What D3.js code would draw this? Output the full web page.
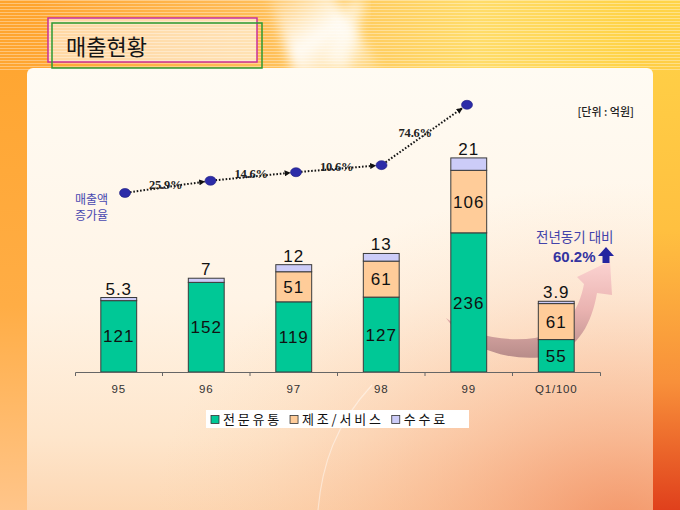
<!DOCTYPE html>
<html>
<head>
<meta charset="utf-8">
<script src="https://cdn.jsdelivr.net/npm/d3@7"></script>
<style>
  body { margin: 0; background: #ffb040; }
  svg { display: block; }
</style>
</head>
<body>
<div id="chart"></div>
<script>
/* categories on the x axis */
const categories = ["95", "96", "97", "98", "99", "Q1/100"];

/* 전문유통 (billion won) */
const distribution = [121, 152, 119, 127, 236, 55];

/* 제조/서비스 */
const manufacturing = [0, 0, 51, 61, 106, 61];

/* 수수료 */
const fees = [5.3, 7, 12, 13, 21, 3.9];
const feeLabels = ["5.3", "7", "12", "13", "21", "3.9"];

/* yearly sales totals drawn as the growth line (95 - 99) */
const salesTotals = [126.3, 159, 182, 201, 363];
const growthLabels = ["25.9%", "14.6%", "10.6%", "74.6%"];

const seriesNames = ["전문유통", "제조/서비스", "수수료"];
const seriesColors = ["#00c896", "#ffcc99", "#ccccf8"];

const width = 680;
const height = 510;
const kr = "'Noto Sans CJK KR', 'Noto Sans', sans-serif";

const svg = d3.select("#chart")
  .append("svg")
    .attr("width", width)
    .attr("height", height);

const defs = svg.append("defs");

function linear(id, x2, y2, stops) {
  const g = defs.append("linearGradient")
    .attr("id", id)
    .attr("x1", 0).attr("y1", 0)
    .attr("x2", x2).attr("y2", y2);
  stops.forEach(s => g.append("stop")
    .attr("offset", s[0])
    .attr("stop-color", s[1])
    .attr("stop-opacity", s[2] === undefined ? 1 : s[2]));
}

linear("bgGrad", 1, 0, [[0, "#ffa22c"], [0.35, "#ffbb55"], [0.7, "#ffdc6a"], [1, "#ffd03c"]]);
linear("panelGrad", 0, 1, [[0, "#fffbf3"], [0.5, "#fff4e6"], [0.8, "#fee6cc"], [1, "#fcd3ad"]]);
linear("rightGrad", 0, 1, [[0, "#ffd448"], [0.45, "#ffc040"], [0.75, "#f8903a"], [1, "#e0401c"]]);
linear("leftGrad", 0, 1, [[0, "#ffa42c"], [0.6, "#ffad45"], [1, "#ffc58a"]]);
linear("swooshGrad", 0, 1, [[0, "#fbd0d0"], [0.5, "#e8aeae"], [1, "#b08484"]]);
linear("rayGrad", 1, 1, [[0, "#ffffff", 0], [0.5, "#ffffff", 0.95], [1, "#ffffff", 0]]);

const radial = defs.append("radialGradient")
  .attr("id", "cornerGlow")
  .attr("cx", 0.95).attr("cy", 1).attr("r", 0.75);
radial.append("stop").attr("offset", 0).attr("stop-color", "#f08050").attr("stop-opacity", 0.75);
radial.append("stop").attr("offset", 0.5).attr("stop-color", "#f6a070").attr("stop-opacity", 0.35);
radial.append("stop").attr("offset", 1).attr("stop-color", "#fbd0a8").attr("stop-opacity", 0);

const stripes = defs.append("pattern")
  .attr("id", "stripes")
  .attr("width", 6).attr("height", 3)
  .attr("patternUnits", "userSpaceOnUse");
stripes.append("rect")
  .attr("width", 6).attr("height", 1)
  .attr("fill", "#ffffff").attr("opacity", 0.35);

defs.append("filter").attr("id", "soft")
  .append("feGaussianBlur").attr("stdDeviation", 6);

defs.append("marker")
    .attr("id", "arrowHead")
    .attr("viewBox", "0 0 10 10")
    .attr("refX", 9).attr("refY", 5)
    .attr("markerWidth", 6).attr("markerHeight", 6)
    .attr("markerUnits", "userSpaceOnUse")
    .attr("orient", "auto")
  .append("path")
    .attr("d", "M0,0L10,5L0,10Z")
    .attr("fill", "#111");

/* background */
svg.append("rect").attr("width", width).attr("height", height).attr("fill", "url(#bgGrad)");
svg.append("rect").attr("width", 40).attr("height", height).attr("fill", "url(#leftGrad)");
svg.append("rect").attr("x", 640).attr("width", 40).attr("height", height).attr("fill", "url(#rightGrad)");
svg.append("rect").attr("width", width).attr("height", 70).attr("fill", "url(#stripes)");
svg.append("path")
  .attr("d", "M265,-10L330,-10L385,75L295,75Z")
  .attr("fill", "url(#rayGrad)")
  .attr("filter", "url(#soft)");
svg.append("path")
  .attr("d", "M325,62L348,0L366,0L348,70Z")
  .attr("fill", "#ffffff").attr("opacity", 0.6)
  .attr("filter", "url(#soft)");

/* content panel */
svg.append("rect")
  .attr("x", 27).attr("y", 68)
  .attr("width", 626).attr("height", 460)
  .attr("rx", 6)
  .attr("fill", "url(#panelGrad)");
svg.append("rect")
  .attr("x", 27).attr("y", 68)
  .attr("width", 626).attr("height", 460)
  .attr("rx", 6)
  .attr("fill", "url(#cornerGlow)");
svg.append("path")
  .attr("d", "M318,510C322,465 335,425 372,385")
  .attr("fill", "none")
  .attr("stroke", "#ffffff").attr("stroke-opacity", 0.45)
  .attr("stroke-width", 1.2);

/* title */
svg.append("rect")
  .attr("x", 48).attr("y", 18).attr("width", 209).attr("height", 44)
  .attr("fill", "#ffffff").attr("fill-opacity", 0.55)
  .attr("stroke", "#c8309c").attr("stroke-width", 1.5);
svg.append("rect")
  .attr("x", 52).attr("y", 23).attr("width", 210).attr("height", 45)
  .attr("fill", "none")
  .attr("stroke", "#2d9a35").attr("stroke-width", 1.5);
svg.append("text")
  .attr("x", 66).attr("y", 55)
  .attr("font-family", kr)
  .attr("font-size", 22)
  .attr("fill", "#151515")
  .text("매출현황");

/* scales */
const x = d3.scaleBand()
  .domain(categories)
  .range([75, 600])
  .padding(0);

const barWidth = x.bandwidth() * 0.41;

const y = d3.scaleLinear()
  .domain([0, 390])
  .range([372, 142]);

const lineX = d3.scalePoint()
  .domain(categories.slice(0, salesTotals.length))
  .range([125, 467]);

const lineY = d3.scaleLinear()
  .domain([0, 400])
  .range([240, 91]);

/* year-on-year swoosh arrow, behind the bars */
svg.append("path")
  .attr("d", "M446,318C468,350 512,363 550,356C579,349 592,322 597,293" +
             "L612,295L610,261L577,277L584,284" +
             "C579,311 564,333 535,338C505,342 470,336 446,318Z")
  .attr("fill", "url(#swooshGrad)")
  .attr("opacity", 0.9);

/* stacked bars */
const rows = categories.map((c, i) => ({
  category: c,
  distribution: distribution[i],
  manufacturing: manufacturing[i],
  fees: fees[i]
}));
const keys = ["distribution", "manufacturing", "fees"];
const stacked = d3.stack().keys(keys)(rows);

const layers = svg.append("g")
  .selectAll("g")
  .data(stacked)
  .join("g")
    .attr("fill", (d, i) => seriesColors[i]);

layers.selectAll("rect")
  .data(d => d.filter(p => p[1] > p[0]))
  .join("rect")
    .attr("x", d => x(d.data.category) + (x.bandwidth() - barWidth) / 2)
    .attr("y", d => y(d[1]))
    .attr("width", barWidth)
    .attr("height", d => y(d[0]) - y(d[1]))
    .attr("stroke", "#3a3a3a")
    .attr("stroke-width", 1);

/* labels inside green and orange segments */
stacked.slice(0, 2).forEach(layer => {
  svg.append("g")
    .selectAll("text")
    .data(layer.filter(p => p[1] > p[0]))
    .join("text")
      .attr("x", d => x(d.data.category) + x.bandwidth() / 2)
      .attr("y", d => (y(d[0]) + y(d[1])) / 2)
      .attr("dy", "0.36em")
      .attr("text-anchor", "middle")
      .attr("font-family", "'Liberation Sans', Arial, sans-serif")
      .attr("font-size", 17)
      .attr("letter-spacing", 1)
      .attr("fill", "#111")
      .text(d => d[1] - d[0]);
});

/* fee labels above the bars */
svg.append("g")
  .selectAll("text")
  .data(stacked[2])
  .join("text")
    .attr("x", d => x(d.data.category) + x.bandwidth() / 2)
    .attr("y", d => y(d[1]) - 3)
    .attr("text-anchor", "middle")
    .attr("font-family", "'Liberation Sans', Arial, sans-serif")
    .attr("font-size", 17)
    .attr("letter-spacing", 1)
    .attr("fill", "#111")
    .text((d, i) => feeLabels[i]);

/* x axis */
const xAxis = svg.append("g")
  .attr("transform", "translate(0," + y(0) + ")")
  .call(d3.axisBottom(x).tickSize(0).tickSizeOuter(4).tickPadding(13));
xAxis.select(".domain").attr("stroke", "#666");
xAxis.selectAll("text")
  .attr("font-family", "'Liberation Sans', Arial, sans-serif")
  .attr("font-size", 11.5)
  .attr("letter-spacing", 0.8)
  .attr("fill", "#333");
xAxis.append("g")
  .selectAll("line")
  .data(categories.slice(1))
  .join("line")
    .attr("x1", d => x(d)).attr("x2", d => x(d))
    .attr("y1", 0).attr("y2", 4)
    .attr("stroke", "#666");

/* growth line: dotted arrows between dots */
const points = salesTotals.map((v, i) => [lineX(categories[i]), lineY(v)]);
const segments = d3.pairs(points);

function shorten(p, q, dist) {
  const dx = q[0] - p[0];
  const dy = q[1] - p[1];
  const len = Math.sqrt(dx * dx + dy * dy);
  return [p[0] + dx / len * dist, p[1] + dy / len * dist];
}

svg.append("g")
  .selectAll("line")
  .data(segments)
  .join("line")
    .attr("x1", d => shorten(d[0], d[1], 5)[0])
    .attr("y1", d => shorten(d[0], d[1], 5)[1])
    .attr("x2", d => shorten(d[1], d[0], 6)[0])
    .attr("y2", d => shorten(d[1], d[0], 6)[1])
    .attr("stroke", "#151515")
    .attr("stroke-width", 2)
    .attr("stroke-dasharray", "1.6,1.8")
    .attr("marker-end", "url(#arrowHead)");

svg.append("g")
  .selectAll("text")
  .data(segments)
  .join("text")
    .attr("x", (d, i) => (d[0][0] + d[1][0]) / 2 - (i === 3 ? 9 : 2))
    .attr("y", d => (d[0][1] + d[1][1]) / 2 + 2)
    .attr("text-anchor", "middle")
    .attr("font-family", "'Liberation Serif', 'Times New Roman', serif")
    .attr("font-weight", "bold")
    .attr("font-size", 12.5)
    .attr("letter-spacing", -0.2)
    .attr("fill", "#222")
    .text((d, i) => growthLabels[i]);

svg.append("g")
  .selectAll("ellipse")
  .data(points)
  .join("ellipse")
    .attr("cx", d => d[0])
    .attr("cy", d => d[1])
    .attr("rx", 5.5)
    .attr("ry", 4.5)
    .attr("fill", "#2c2ca8")
    .attr("stroke", "#1c1c80")
    .attr("stroke-width", 0.6);

/* side notes */
svg.append("text")
  .attr("font-family", kr)
  .attr("font-size", 12)
  .attr("fill", "#4848b0")
  .selectAll("tspan")
  .data(["매출액", "증가율"])
  .join("tspan")
    .attr("x", 75)
    .attr("y", (d, i) => 204 + i * 16)
    .text(d => d);

svg.append("text")
  .attr("x", 634).attr("y", 116)
  .attr("text-anchor", "end")
  .attr("font-family", kr)
  .attr("font-size", 11)
  .attr("font-weight", 500)
  .attr("fill", "#222")
  .text("[단위 : 억원]");

svg.append("text")
  .attr("x", 536).attr("y", 242)
  .attr("font-family", kr)
  .attr("font-size", 13.5)
  .attr("fill", "#4343aa")
  .text("전년동기 대비");

svg.append("text")
  .attr("x", 553).attr("y", 262)
  .attr("font-family", "'Liberation Sans', Arial, sans-serif")
  .attr("font-weight", "bold")
  .attr("font-size", 15)
  .attr("fill", "#3434a0")
  .text("60.2%");

svg.append("path")
  .attr("d", "M606,247L614,256L609.5,256L609.5,263L602.5,263L602.5,256L598,256Z")
  .attr("fill", "#2424a0");

/* legend */
svg.append("rect")
  .attr("x", 206).attr("y", 410)
  .attr("width", 263).attr("height", 18)
  .attr("fill", "#ffffff");

const legend = svg.append("g");
let legendX = 211;
seriesNames.forEach((name, i) => {
  legend.append("rect")
    .attr("x", legendX).attr("y", 415.5)
    .attr("width", 8).attr("height", 8)
    .attr("fill", seriesColors[i])
    .attr("stroke", "#333").attr("stroke-width", 0.8);
  const t = legend.append("text")
    .attr("x", legendX + 12).attr("y", 424)
    .attr("font-family", kr)
    .attr("font-size", 13)
    .attr("letter-spacing", 2.8)
    .attr("fill", "#111")
    .text(name);
  legendX += 12 + t.node().getComputedTextLength() + 8;
});
</script>
</body>
</html>
